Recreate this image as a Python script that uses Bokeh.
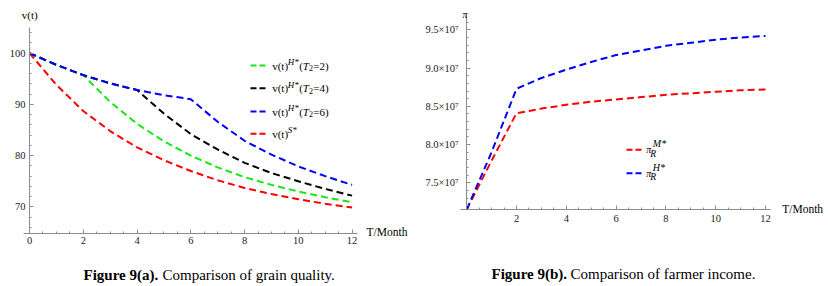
from bokeh.plotting import figure
from bokeh.layouts import row
from bokeh.models import Label, FixedTicker, CustomJSTickFormatter, Range1d, Arrow
from bokeh.embed import file_html
from bokeh.resources import INLINE

# ---------------- data ----------------
months = [0, 1, 2, 3, 4, 5, 6, 7, 8, 9, 10, 11, 12]
v_S = [100, 93.8, 88.7, 84.8, 81.6, 79.1, 77.0, 75.2, 73.7, 72.5, 71.5, 70.6, 69.9]
v_H_T2 = [100, 97.7, 95.7, 90.5, 86.2, 82.8, 80.0, 77.7, 75.8, 74.3, 73.0, 71.9, 70.9]
v_H_T4 = [100, 97.7, 95.7, 94.1, 92.8, 88.2, 84.2, 81.2, 78.6, 76.6, 75.0, 73.5, 72.2]
v_H_T6 = [100, 97.7, 95.7, 94.1, 92.8, 91.8, 91.0, 86.6, 82.9, 80.2, 77.9, 76.0, 74.3]

pi_M = [7.15e7, 7.79e7, 8.41e7, 8.47e7, 8.52e7, 8.56e7, 8.59e7, 8.62e7, 8.65e7, 8.67e7, 8.69e7, 8.71e7, 8.72e7]
pi_H = [7.15e7, 7.90e7, 8.73e7, 8.87e7, 8.98e7, 9.08e7, 9.17e7, 9.23e7, 9.29e7, 9.33e7, 9.37e7, 9.40e7, 9.42e7]

left_xticks = [0, 2, 4, 6, 8, 10, 12]
left_yticks = [70, 80, 90, 100]
right_xticks = [2, 4, 6, 8, 10, 12]
right_yticks = [7.5e7, 8.0e7, 8.5e7, 9.0e7, 9.5e7]

SERIF = "Liberation Serif"
AXFONT = "'Liberation Serif'"
GREEN, BLACK, BLUE, RED = "#19e619", "#000000", "#0000ff", "#ff0000"
DASH = "7 4"
LW = 2
H = 286


def style_axes(p):
    for ax in (p.xaxis[0], p.yaxis[0]):
        ax.axis_line_color = "#8c8c8c"
        ax.axis_line_width = 1
        ax.major_tick_line_color = "#8c8c8c"
        ax.minor_tick_line_color = "#8c8c8c"
        ax.major_tick_in = 4
        ax.major_tick_out = 0
        ax.minor_tick_in = 2
        ax.minor_tick_out = 0
        ax.major_label_text_font = AXFONT
        ax.major_label_text_font_size = "10.5px"
        ax.major_label_text_color = "#222222"
    p.xgrid.visible = False
    p.ygrid.visible = False
    p.outline_line_color = None
    p.background_fill_color = "white"
    p.border_fill_color = "white"


def lab(p, x, y, text, size="11px", style="normal", align="left", color="black"):
    p.add_layout(Label(x=x, y=y, text=text, text_font=SERIF, text_font_size=size,
                       text_font_style=style, text_align=align, text_baseline="middle",
                       text_color=color))


# ---------------- left figure (reference x 0..424) ----------------
W1 = 424


def fx1(px):
    return (px - 29.0) / 26.883


def fy1(py):
    return 100 - (py - 52.6) / 5.1267


def d1(px, py):
    return fx1(px), fy1(py)


p1 = figure(width=W1, height=H, output_backend="svg", toolbar_location=None,
            x_range=Range1d(fx1(0), fx1(W1)), y_range=Range1d(fy1(H), fy1(0)),
            min_border=0, min_border_left=0, min_border_right=0,
            min_border_top=0, min_border_bottom=0)
style_axes(p1)
p1.xaxis.fixed_location = fy1(232.5)
p1.xaxis.bounds = (fx1(23), fx1(357))
p1.yaxis.fixed_location = 0
p1.yaxis.bounds = (fy1(232.5), fy1(27))
p1.xaxis.ticker = FixedTicker(ticks=left_xticks,
                              minor_ticks=[i * 0.5 for i in range(1, 25) if i % 4])
p1.yaxis.ticker = FixedTicker(ticks=left_yticks,
                              minor_ticks=[v for v in range(66, 105, 2) if v % 10])
p1.xaxis.major_label_standoff = 4
p1.yaxis.major_label_standoff = 4

p1.line(months, v_H_T2, line_color=GREEN, line_width=LW, line_dash=DASH)
p1.line(months, v_H_T4, line_color=BLACK, line_width=LW, line_dash=DASH)
p1.line(months, v_S, line_color=RED, line_width=LW, line_dash=DASH)
p1.line(months, v_H_T6, line_color=BLUE, line_width=LW, line_dash=DASH)

# axis labels
x, y = d1(29.2, 14); lab(p1, x, y, "v(t)", "11px", align="center")
x, y = d1(366, 231); lab(p1, x, y, "T/Month", "11.5px")

# legend
rows_y = [65, 87.7, 111, 133.3]
colors = [GREEN, BLACK, BLUE, RED]
t2 = ["2", "4", "6"]
x0 = 271.7
for i, (ry, c) in enumerate(zip(rows_y, colors)):
    xs, ys = d1(250, ry)
    xe, _ = d1(266, ry)
    p1.add_layout(Arrow(x_start=xs, y_start=ys, x_end=xe, y_end=ys, end=None,
                        line_color=c, line_width=LW, line_dash="6 3"))
    x, y = d1(x0, ry); lab(p1, x, y, "v(t)", "11px")
    if i < 3:
        x, y = d1(x0 + 15.5, ry - 3.5); lab(p1, x, y, "H*", "9px", "italic")
        x, y = d1(x0 + 27, ry); lab(p1, x, y, "(", "11px")
        x, y = d1(x0 + 30.6, ry); lab(p1, x, y, "T", "11px", "italic")
        x, y = d1(x0 + 36.8, ry + 2.8); lab(p1, x, y, "2", "8px")
        x, y = d1(x0 + 41, ry); lab(p1, x, y, "=" + t2[i] + ")", "11px")
    else:
        x, y = d1(x0 + 15.5, ry - 3.5); lab(p1, x, y, "S*", "9px", "italic")

# caption
x, y = d1(83, 274); lab(p1, x, y, "Figure 9(a).", "15px", "bold")
x, y = d1(83 + 79, 274); lab(p1, x, y, "Comparison of grain quality.", "15px")

# ---------------- right figure (reference x 424..828) ----------------
W2 = 404
OX2 = 424


def fx2(px):
    return (px - 466.2) / 24.9


def fy2(py):
    return 9.5e7 - (py - 29.3) / 76.5 * 1e7


def d2(px, py):
    return fx2(px), fy2(py)


p2 = figure(width=W2, height=H, output_backend="svg", toolbar_location=None,
            x_range=Range1d(fx2(OX2), fx2(OX2 + W2)), y_range=Range1d(fy2(H), fy2(0)),
            min_border=0, min_border_left=0, min_border_right=0,
            min_border_top=0, min_border_bottom=0)
style_axes(p2)
p2.xaxis.fixed_location = fy2(209.3)
p2.xaxis.bounds = (fx2(460), fx2(770))
p2.yaxis.fixed_location = 0
p2.yaxis.bounds = (fy2(209.3), fy2(15))
p2.xaxis.ticker = FixedTicker(ticks=right_xticks,
                              minor_ticks=[i * 0.5 for i in range(1, 25) if i % 4])
p2.yaxis.ticker = FixedTicker(ticks=right_yticks,
                              minor_ticks=[v * 1e6 for v in range(72, 97) if v % 5])
p2.yaxis.formatter = CustomJSTickFormatter(code="return (tick/1e7).toFixed(1) + '\u00d710\u2077';")
p2.xaxis.major_label_standoff = 5
p2.yaxis.major_label_standoff = 8

p2.line(months, pi_M, line_color=RED, line_width=LW, line_dash=DASH)
p2.line(months, pi_H, line_color=BLUE, line_width=LW, line_dash=DASH)

x, y = d2(464.5, 13.5); lab(p2, x, y, "\u03c0", "10px", "italic", align="center")
x, y = d2(781.7, 208.5); lab(p2, x, y, "T/Month", "11.5px")

for ry, c, sup in [(149.3, RED, "M*"), (172.7, BLUE, "H*")]:
    xs, ys = d2(626, ry)
    xe, _ = d2(642, ry)
    p2.add_layout(Arrow(x_start=xs, y_start=ys, x_end=xe, y_end=ys, end=None,
                        line_color=c, line_width=LW, line_dash="6 3"))
    x, y = d2(645.8, ry); lab(p2, x, y, "\u03c0", "10px", "italic")
    x, y = d2(649.8, ry + 4.2); lab(p2, x, y, "R", "9.5px", "italic")
    x, y = d2(652.3, ry - 6); lab(p2, x, y, sup, "10px", "italic")

x, y = d2(491, 273); lab(p2, x, y, "Figure 9(b).", "15px", "bold")
x, y = d2(491 + 79, 273); lab(p2, x, y, "Comparison of farmer income.", "15px")

layout = row(p1, p2)
open("out.html", "w").write(file_html(layout, INLINE))
